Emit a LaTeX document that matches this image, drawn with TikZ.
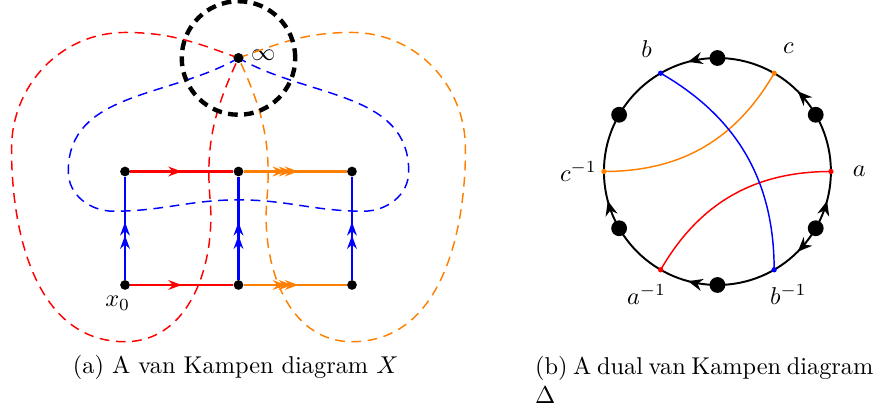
\documentclass[tikz,border=0pt]{standalone}
\usepackage{tikz}
\usetikzlibrary{positioning, calc, arrows.meta, decorations.markings}

\begin{document}
\begin{tikzpicture}[
        x=0.82cm, y=0.82cm,
        % Style for the vertices
        vertex/.style={circle, fill=black, inner sep=0pt, minimum size=4pt},
        bigvertex/.style={circle, fill=black, inner sep=0pt, minimum size=6.5pt},
        endpt/.style={circle, inner sep=0pt, minimum size=2.2pt},
        % Styles for the edges and the dual curves
        gridedge/.style={line width=0.95pt},
        dualloop/.style={semithick, dash pattern=on 4pt off 2.7pt},
        % Arrow tips in the middle of an edge
        onetip/.style={postaction={decorate}, decoration={markings,
            mark=at position 0.5 with {\arrow{Stealth[length=5.5pt,width=4pt]}}}},
        twotip/.style={postaction={decorate}, decoration={markings,
            mark=at position 0.56 with {\arrow{Stealth[length=5.5pt,width=4pt,sep=0pt]Stealth[length=5.5pt,width=4pt]}}}},
        threetip/.style={postaction={decorate}, decoration={markings,
            mark=at position 0.53 with {\arrow{Stealth[length=5.5pt,width=4pt,sep=-3pt]Stealth[length=5.5pt,width=4pt,sep=-3pt]Stealth[length=5.5pt,width=4pt]}}}},
        ringtips/.style={postaction={decorate}, decoration={markings,
            mark=at position 0.125 with {\arrow{Stealth[length=6pt,width=5pt]}},
            mark=at position 0.2917 with {\arrow{Stealth[length=6pt,width=5pt]}},
            mark=at position 0.5417 with {\arrowreversed{Stealth[length=6pt,width=5pt]}},
            mark=at position 0.7083 with {\arrowreversed{Stealth[length=6pt,width=5pt]}},
            mark=at position 0.875 with {\arrowreversed{Stealth[length=6pt,width=5pt]}},
            mark=at position 0.9583 with {\arrow{Stealth[length=6pt,width=5pt]}}}}
    ]
        \useasboundingbox (-2.203,-2.22) rectangle (13.27,5.022);

        % 1. Vertices of the van Kampen diagram
        \node[vertex] (v00) at (0,0) {};
        \node[vertex] (v20) at (2,0) {};
        \node[vertex] (v40) at (4,0) {};
        \node[vertex] (v02) at (0,2) {};
        \node[vertex] (v22) at (2,2) {};
        \node[vertex] (v42) at (4,2) {};
        \node[vertex] (inf) at (2,4) {};
        \node[right=-0.5pt of inf, yshift=1pt] (inflabel) {$\infty$};
        \node[below=-1pt of v00, xshift=-3pt] (basept) {$x_0$};

        % 2. Dual curves through the point at infinity
        \draw[dualloop, red] (inf.center) to[out=160,in=0] (0,4.45) to[out=180,in=90] (-2,2.4)
            to[out=-90,in=180] (0,-1) to[out=0,in=-85] (1.5,1.5) to[out=95,in=-115] (inf.center);
        \draw[dualloop, orange] (inf.center) to[out=20,in=180] (4,4.45) to[out=0,in=90] (6,2.4)
            to[out=-90,in=0] (4,-1) to[out=180,in=-95] (2.5,1.5) to[out=85,in=-65] (inf.center);
        \draw[dualloop, blue] (inf.center) to[out=-150,in=90] (-1,2) to[out=-90,in=180] (-0.2,1.3)
            to[out=0,in=180] (2,1.5) to[out=0,in=180] (4.2,1.3) to[out=0,in=-90] (5,2)
            to[out=90,in=-30] (inf.center);

        % 3. Edges
        \draw[gridedge, red, onetip] (v00) -- (v20);
        \draw[gridedge, red, onetip] (v02) -- (v22);
        \draw[gridedge, orange, threetip] (v20) -- (v40);
        \draw[gridedge, orange, threetip] (v22) -- (v42);
        \draw[gridedge, blue, twotip] (v00) -- (v02);
        \draw[gridedge, blue, twotip] (v20) -- (v22);
        \draw[gridedge, blue, twotip] (v40) -- (v42);

        % 4. Neighbourhood of infinity
        \draw[line width=1.8pt, dash pattern=on 4pt off 2.6pt] (inf.center) circle (1);
        \node[vertex] at (inf) {};

        % 5. The dual diagram
        \begin{scope}[shift={(10.44,2)}]
            \draw[thick, ringtips] (0:2) arc[start angle=0, end angle=360, radius=2];
            \foreach \a in {30,90,...,330}
                \node[bigvertex] (d\a) at (\a:2) {};
            \node[endpt, fill=red] (a) at (0:2) {};
            \node[endpt, fill=orange] (c) at (60:2) {};
            \node[endpt, fill=blue] (b) at (120:2) {};
            \node[endpt, fill=orange] (cinv) at (180:2) {};
            \node[endpt, fill=red] (ainv) at (240:2) {};
            \node[endpt, fill=blue] (binv) at (300:2) {};
            \draw[semithick, red] (a.center) to[bend right=30] (ainv.center);
            \draw[semithick, orange] (c.center) to[bend left=30] (cinv.center);
            \draw[semithick, blue] (b.center) to[bend left=30] (binv.center);
            \node (la) at (0:2.5) {$a$};
            \node (lc) at (60:2.5) {$c$};
            \node (lb) at (120:2.5) {$b$};
            \node (lcinv) at (180:2.45) {$c^{-1}$};
            \node (lainv) at (240:2.5) {$a^{-1}$};
            \node (lbinv) at (300:2.5) {$b^{-1}$};
        \end{scope}

        % 6. Captions
        \node (capa) at (1.95,-1.45) {(a) A van Kampen diagram $X$};
        \node[anchor=north west, align=left, inner sep=0pt] (capb) at (7.22,-1.25)
            {\spaceskip=2.3pt plus 1pt (b) A dual van Kampen diagram\\$\Delta$};
\end{tikzpicture}
\end{document}
